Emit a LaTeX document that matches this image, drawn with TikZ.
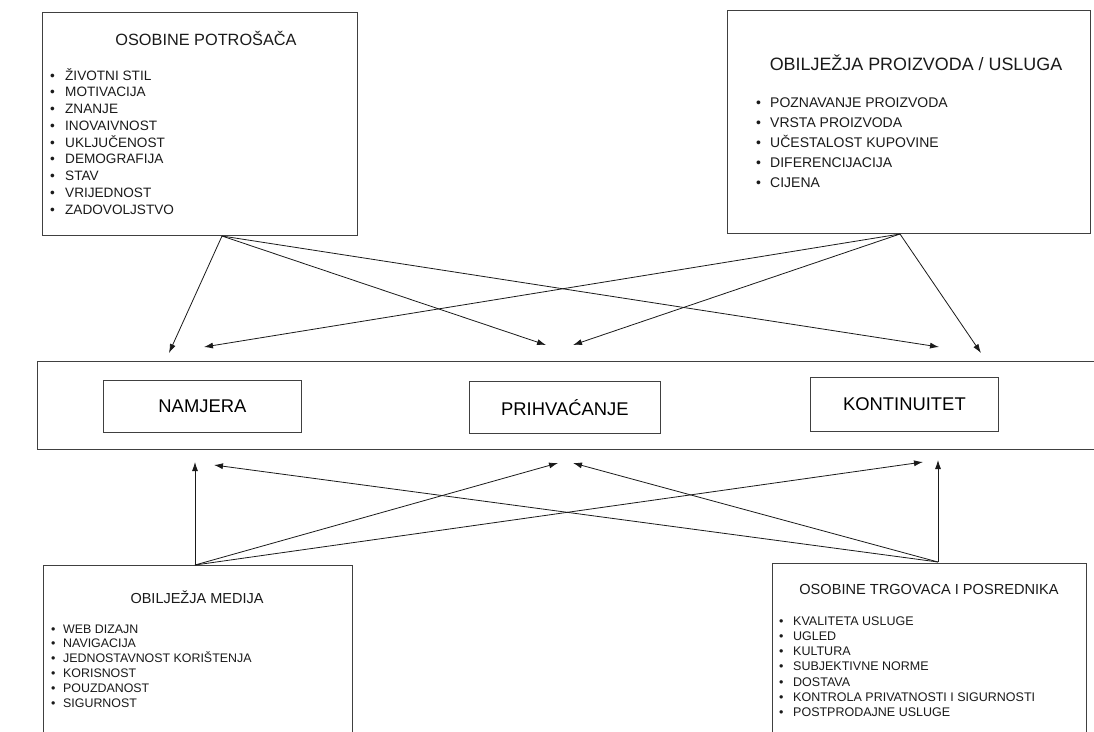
\documentclass[tikz,border=0pt]{standalone}
\usepackage{fontspec}
\setmainfont{Liberation Sans}
\usetikzlibrary{arrows.meta}
\definecolor{edge}{HTML}{404040}
\definecolor{ink}{HTML}{1A1A1A}
\begin{document}
\begin{tikzpicture}[x=1pt,y=-1pt,
  box/.style={draw=edge,line width=0.9pt,fill=white,inner sep=0pt},
  inbox/.style={draw=edge,line width=0.8pt,fill=white,inner sep=0pt,font=\fontsize{18.4}{20}\selectfont},
  arr/.style={draw=ink,line width=0.8pt,-{Latex[length=9pt,width=6pt]}},
  ttl/.style={inner sep=0pt,anchor=base,text=ink},
  itm/.style={inner sep=0pt,anchor=base west,text=ink}]
\useasboundingbox (0,0) rectangle (1094,731);
\clip (0,0) rectangle (1094,731);
\fill[white] (0,0) rectangle (1094,731);

% top boxes
\node[box,anchor=north west,minimum width=315pt,minimum height=223pt] (pot) at (42,12) {};
\node[box,anchor=north west,minimum width=363pt,minimum height=223pt] (pro) at (727,10) {};
% bottom boxes (cut by the lower border)
\node[box,anchor=north west,minimum width=309pt,minimum height=200pt] (med) at (43,565) {};
\node[box,anchor=north west,minimum width=314pt,minimum height=200pt] (trg) at (772,563) {};
% band
\node[box,anchor=north west,minimum width=1080pt,minimum height=88pt] (band) at (37,361) {};
\node[inbox,anchor=north west,minimum width=198pt,minimum height=52pt] (nam) at (103,380) {NAMJERA};
\node[inbox,anchor=north west,minimum width=191pt,minimum height=52pt] (pri) at (469,381) {PRIHVAĆANJE};
\node[inbox,anchor=north west,minimum width=188pt,minimum height=54pt] (kon) at (810,377) {KONTINUITET};

% titles
\node[ttl,font=\fontsize{16.3}{19}\selectfont] (t1) at (206,45) {OSOBINE POTROŠAČA};
\node[ttl,font=\fontsize{17.9}{21}\selectfont] (t2) at (916,70) {OBILJEŽJA PROIZVODA / USLUGA};
\node[ttl,font=\fontsize{14.5}{17}\selectfont] (t3) at (197,603) {OBILJEŽJA MEDIJA};
\node[ttl,font=\fontsize{14.6}{17}\selectfont] (t4) at (929,594) {OSOBINE TRGOVACA I POSREDNIKA};

% lists
\foreach \t [count=\i from 0] in {ŽIVOTNI STIL,MOTIVACIJA,ZNANJE,INOVAIVNOST,UKLJUČENOST,DEMOGRAFIJA,STAV,VRIJEDNOST,ZADOVOLJSTVO}{
  \node[itm,font=\fontsize{13.6}{16}\selectfont] (p\i) at (50,80+16.75*\i) {\makebox[15pt][l]{\textbullet}\t};}
\foreach \t [count=\i from 0] in {POZNAVANJE PROIZVODA,VRSTA PROIZVODA,UČESTALOST KUPOVINE,DIFERENCIJACIJA,CIJENA}{
  \node[itm,font=\fontsize{14}{16}\selectfont] (q\i) at (756,107+20*\i) {\makebox[14pt][l]{\textbullet}\t};}
\foreach \t [count=\i from 0] in {WEB DIZAJN,NAVIGACIJA,JEDNOSTAVNOST KORIŠTENJA,KORISNOST,POUZDANOST,SIGURNOST}{
  \node[itm,font=\fontsize{12.4}{14}\selectfont] (m\i) at (51,633+14.8*\i) {\makebox[12pt][l]{\textbullet}\t};}
\foreach \t [count=\i from 0] in {KVALITETA USLUGE,UGLED,KULTURA,SUBJEKTIVNE NORME,DOSTAVA,KONTROLA PRIVATNOSTI I SIGURNOSTI,POSTPRODAJNE USLUGE}{
  \node[itm,font=\fontsize{12.5}{14}\selectfont] (r\i) at (779,625+15.3*\i) {\makebox[14pt][l]{\textbullet}\t};}

% connector ends
\coordinate (s1) at (222,236);
\coordinate (s2) at (900,234);
\coordinate (s3) at (195,565);
\coordinate (s4) at (938,562);
\coordinate (a1) at (169,353);
\coordinate (a2) at (546,345);
\coordinate (a3) at (939,347);
\coordinate (b1) at (204,347);
\coordinate (b2) at (573,345);
\coordinate (b3) at (981,353);
\coordinate (c1) at (195,462);
\coordinate (c2) at (558,463);
\coordinate (c3) at (923,462);
\coordinate (d1) at (214,465);
\coordinate (d2) at (573,463);
\coordinate (d3) at (938,460);

\draw[arr] (s1) -- (a1);
\draw[arr] (s1) -- (a2);
\draw[arr] (s1) -- (a3);
\draw[arr] (s2) -- (b1);
\draw[arr] (s2) -- (b2);
\draw[arr] (s2) -- (b3);
\draw[arr] (s3) -- (c1);
\draw[arr] (s3) -- (c2);
\draw[arr] (s3) -- (c3);
\draw[arr] (s4) -- (d1);
\draw[arr] (s4) -- (d2);
\draw[arr] (s4) -- (d3);
\end{tikzpicture}
\end{document}
